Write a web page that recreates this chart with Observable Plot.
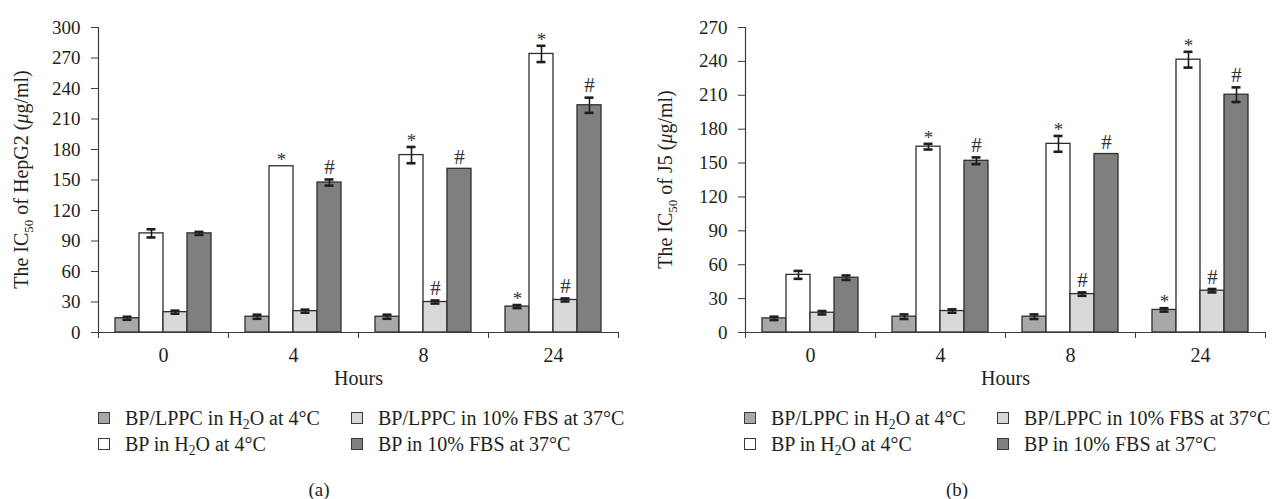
<!DOCTYPE html>
<html>
<head>
<meta charset="utf-8">
<script src="https://cdn.jsdelivr.net/npm/d3@7"></script>
<script src="https://cdn.jsdelivr.net/npm/@observablehq/plot@0.6"></script>
<style>
  html, body { margin: 0; padding: 0; background: #fff; }
  body { width: 1276px; height: 499px; overflow: hidden; font-family: "Liberation Serif", "DejaVu Serif", serif; color: #231f20; }
  #figure { display: flex; }
  .panel { width: 638px; position: relative; }
  .panel svg { display: block; }
  .legend { display: grid; grid-template-rows: 26px 26px; grid-auto-flow: column; grid-template-columns: 253px auto; margin-top: 10px; font-size: 20px; line-height: 26px; white-space: nowrap; }
  .legend .item { display: flex; align-items: center; }
  .legend .swatch { width: 10px; height: 10px; border: 1px solid #3a3a3a; margin-right: 15px; flex: none; }
  .legend sub { font-size: 0.68em; vertical-align: -0.3em; line-height: 0; }
  .caption { text-align: center; font-size: 19px; line-height: 24px; margin-top: 21px; }
</style>
</head>
<body>
<div id="figure"></div>
<script>
// Sampling times (hours) and the four formulations compared at each time
const hours = ["0", "4", "8", "24"];
const groups = ["lppcWater", "bpWater", "lppcSerum", "bpSerum"];
const groupLabels = [
  "BP/LPPC in H<sub>2</sub>O at 4°C",
  "BP in H<sub>2</sub>O at 4°C",
  "BP/LPPC in 10% FBS at 37°C",
  "BP in 10% FBS at 37°C"
];
const groupFills = ["#a8a8a8", "#ffffff", "#d9d9d9", "#7f7f7f"];

// HepG2: IC50 (µg/ml), rows follow `groups`, columns follow `hours`
const hepg2Means = [
  [14, 15.5, 15.5, 25.5],
  [97.5, 163.5, 174.5, 274],
  [20, 21, 30, 32],
  [97.5, 147.5, 161, 223.5]
];
const hepg2Errors = [
  [1.5, 2, 2, 1.5],
  [4, 0, 8, 8],
  [1.5, 1.5, 1.5, 1.5],
  [1.5, 3, 0, 7.5]
];
const hepg2Marks = [
  ["", "", "", "*"],
  ["", "*", "*", "*"],
  ["", "", "#", "#"],
  ["", "#", "#", "#"]
];

// J5: IC50 (µg/ml)
const j5Means = [
  [12.5, 14, 14, 20],
  [51, 164.5, 167, 241.5],
  [17.5, 19, 34, 37],
  [48.5, 152, 158, 210.5]
];
const j5Errors = [
  [1.5, 2, 2, 1.5],
  [3.5, 2.5, 7, 7],
  [1.5, 1.5, 1.5, 1.5],
  [2, 3, 0, 6.5]
];
const j5Marks = hepg2Marks;

const hepg2Ticks = d3.range(0, 301, 30);
const j5Ticks = d3.range(0, 271, 30);

function rows(means, errors, marks) {
  return groups.flatMap((g, i) => hours.map((h, j) => ({
    hour: h, group: g, mean: means[i][j], err: errors[i][j], mark: marks[i][j]
  })));
}

const ink = "#231f20";
const axisInk = "#3c3c3c";

function chart({data, ticks, marginLeft, marginRight, cell, labelX}) {
  const withErr = data.filter(d => d.err > 0);
  const top = d => d.mean + d.err;
  const svg = Plot.plot({
    width: 638,
    height: 395,
    marginTop: 27,
    marginBottom: 63,
    marginLeft,
    marginRight,
    style: {fontFamily: "'Liberation Serif', 'DejaVu Serif', serif", fontSize: "19px", color: ink, background: "#fff"},
    fx: {domain: hours, padding: 0},
    x: {domain: groups, paddingInner: 0, paddingOuter: 0.708, axis: null},
    y: {domain: [0, ticks[ticks.length - 1]]},
    color: {domain: groups, range: groupFills},
    marks: [
      Plot.axisY({ticks, tickSize: 7, tickPadding: 11, label: null, stroke: axisInk, fill: ink}),
      Plot.axisFx({anchor: "bottom", tickSize: 0, tickPadding: 15, label: "Hours", labelAnchor: "center", labelOffset: 52, fontSize: 20, fill: ink}),
      Plot.axisFx({anchor: "bottom", tickSize: 6, tickFormat: () => "", label: null, dx: -65, stroke: axisInk}),
      Plot.axisFx({anchor: "bottom", ticks: [hours[hours.length - 1]], tickSize: 6, tickFormat: () => "", label: null, dx: 65, stroke: axisInk}),
      Plot.barY(data, {fx: "hour", x: "group", y: "mean", fill: "group", stroke: "#2e2e2e", strokeWidth: 1.3}),
      Plot.ruleX(withErr, {fx: "hour", x: "group", y1: d => d.mean - d.err, y2: top, stroke: "#1e1e1e", strokeWidth: 1.6}),
      Plot.tickY(withErr, {fx: "hour", x: "group", y: d => d.mean - d.err, insetLeft: 7.5, insetRight: 7.5, stroke: "#1e1e1e", strokeWidth: 2.6}),
      Plot.tickY(withErr, {fx: "hour", x: "group", y: top, insetLeft: 7.5, insetRight: 7.5, stroke: "#1e1e1e", strokeWidth: 2.6}),
      Plot.text(data.filter(d => d.mark === "*"), {fx: "hour", x: "group", y: top, text: "mark", dy: -6, fontSize: 19, fill: "#333"}),
      Plot.text(data.filter(d => d.mark === "#"), {fx: "hour", x: "group", y: top, text: "mark", dy: -12, fontSize: 21, fill: "#333"}),
      Plot.ruleY([0], {stroke: axisInk, strokeWidth: 1.2}),
      Plot.frame({anchor: "left", facetAnchor: "left", stroke: axisInk, strokeWidth: 1.2})
    ]
  });

  // Rotated y-axis title with subscript and italic mu
  const yMid = (27 + (395 - 63)) / 2;
  const t = d3.select(svg).append("text")
    .attr("transform", `translate(${labelX},${yMid}) rotate(-90)`)
    .attr("text-anchor", "middle")
    .attr("fill", ink)
    .attr("font-size", 20);
  t.append("tspan").text("The IC");
  t.append("tspan").attr("font-size", 13).attr("dy", 5).text("50");
  t.append("tspan").attr("dy", -5).text(` of ${cell} (`);
  t.append("tspan").attr("font-style", "italic").text("μ");
  t.append("tspan").text("g/ml)");
  return svg;
}

function panel(svg, caption, legendLeft) {
  const div = document.createElement("div");
  div.className = "panel";
  div.appendChild(svg);
  const legend = document.createElement("div");
  legend.className = "legend";
  legend.style.marginLeft = legendLeft + "px";
  groups.forEach((g, i) => {
    const item = document.createElement("div");
    item.className = "item";
    item.innerHTML = `<span class="swatch" style="background:${groupFills[i]}"></span><span>${groupLabels[i]}</span>`;
    legend.appendChild(item);
  });
  div.appendChild(legend);
  const cap = document.createElement("div");
  cap.className = "caption";
  cap.textContent = caption;
  div.appendChild(cap);
  return div;
}

const left = chart({data: rows(hepg2Means, hepg2Errors, hepg2Marks), ticks: hepg2Ticks, marginLeft: 98, marginRight: 20, cell: "HepG2", labelX: 28});
const right = chart({data: rows(j5Means, j5Errors, j5Marks), ticks: j5Ticks, marginLeft: 106, marginRight: 11, cell: "J5", labelX: 34});

const fig = document.getElementById("figure");
fig.appendChild(panel(left, "(a)", 98));
fig.appendChild(panel(right, "(b)", 106));
</script>
</body>
</html>
